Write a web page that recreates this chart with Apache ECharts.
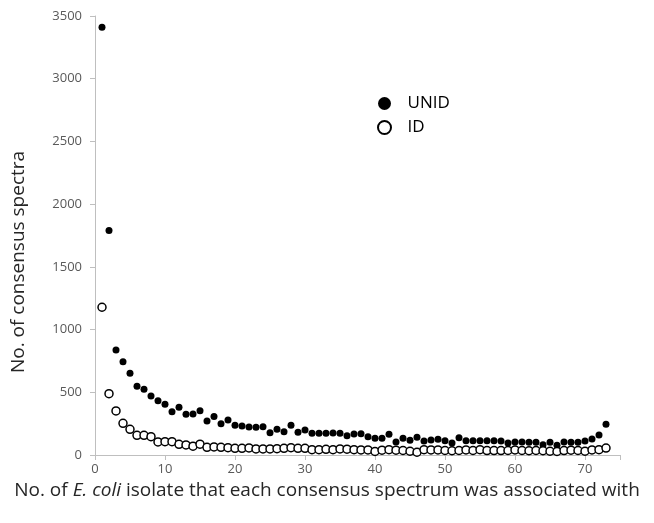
<!DOCTYPE html>
<html>
<head>
<meta charset="utf-8">
<script src="https://cdn.jsdelivr.net/npm/echarts@6/dist/echarts.min.js"></script>
<style>
html,body{margin:0;padding:0;background:#fff;}
#c{width:654px;height:523px;}
</style>
</head>
<body>
<div id="c"></div>
<script>
const isolates = [];
for (let i = 1; i <= 73; i++) isolates.push(i);
const unid = [3410,1790,837,744,651,548,524,470,433,404,345,380,324,327,353,271,306,250,279,237,231,223,221,226,178,205,186,237,181,199,173,173,173,175,173,154,167,170,146,133,133,165,104,133,117,141,112,120,125,114,96,138,114,114,114,114,114,112,96,104,104,101,101,82,101,77,104,101,101,112,128,160,245];
const idv = [1178,489,351,253,205,157,157,146,104,106,106,85,80,70,86,61,64,61,58,53,53,56,48,48,48,50,53,58,53,53,42,42,45,42,48,46,42,40,40,28,38,42,38,36,30,22,42,40,40,36,34,36,40,36,42,35,35,35,36,40,36,34,36,34,30,28,35,38,36,30,40,42,55];
const yTicks = [0,500,1000,1500,2000,2500,3000,3500];
const xTicks = [0,10,20,30,40,50,60,70];

const chart = echarts.init(document.getElementById('c'), null, {renderer:'canvas'});
const font = '"Open Sans", "Noto Sans", sans-serif';
chart.setOption({
  backgroundColor:'#fff',
  animation:false,
  grid:{left:95, top:16, right:34, bottom:68, containLabel:false},
  legend:{
    orient:'vertical', left:372, top:90, itemGap:7, itemWidth:36, itemHeight:13,
    textStyle:{fontFamily:font, fontSize:17, color:'#000', lineHeight:14},
    data:[{name:'UNID', icon:'circle'},{name:'ID', icon:'circle'}]
  },
  xAxis:{
    type:'value', min:0, max:75, interval:10,
    axisLine:{lineStyle:{color:'#bfbfbf', width:1}},
    axisTick:{show:true, length:5, lineStyle:{color:'#bfbfbf'}},
    splitLine:{show:false},
    axisLabel:{color:'#595959', fontFamily:font, fontSize:13, margin:8,
      formatter:v => xTicks.includes(v) ? String(v) : ''}
  },
  yAxis:{
    type:'value', min:0, max:3500, interval:500,
    axisLine:{show:true, lineStyle:{color:'#bfbfbf', width:1}},
    axisTick:{show:true, length:5, lineStyle:{color:'#bfbfbf'}},
    splitLine:{show:false},
    axisLabel:{color:'#595959', fontFamily:font, fontSize:13, margin:13,
      formatter:v => yTicks.includes(v) ? String(v) : ''}
  },
  graphic:[
    {type:'text', x:19, y:262, rotation:Math.PI/2,
      style:{text:'No. of consensus spectra', fill:'#262626', font:'19px "Open Sans", sans-serif', textAlign:'center', textVerticalAlign:'middle'}},
    {type:'text', left:'center', top:481,
      style:{rich:{n:{fontFamily:font, fontSize:19, fill:'#262626'}, i:{fontFamily:font, fontSize:19, fontStyle:'italic', fill:'#262626'}},
        text:'{n|No. of }{i|E. coli}{n| isolate that each consensus spectrum was associated with}'}}
  ],
  series:[
    {name:'UNID', type:'scatter', symbol:'circle', symbolSize:7,
      itemStyle:{color:'#000', borderColor:'#000', borderWidth:0, opacity:1},
      data: isolates.map((x,i)=>[x, unid[i]])},
    {name:'ID', type:'scatter', symbol:'circle', symbolSize:8,
      itemStyle:{color:'#fff', borderColor:'#000', borderWidth:1.5, opacity:1},
      data: isolates.map((x,i)=>[x, idv[i]])}
  ]
});
</script>
</body>
</html>
